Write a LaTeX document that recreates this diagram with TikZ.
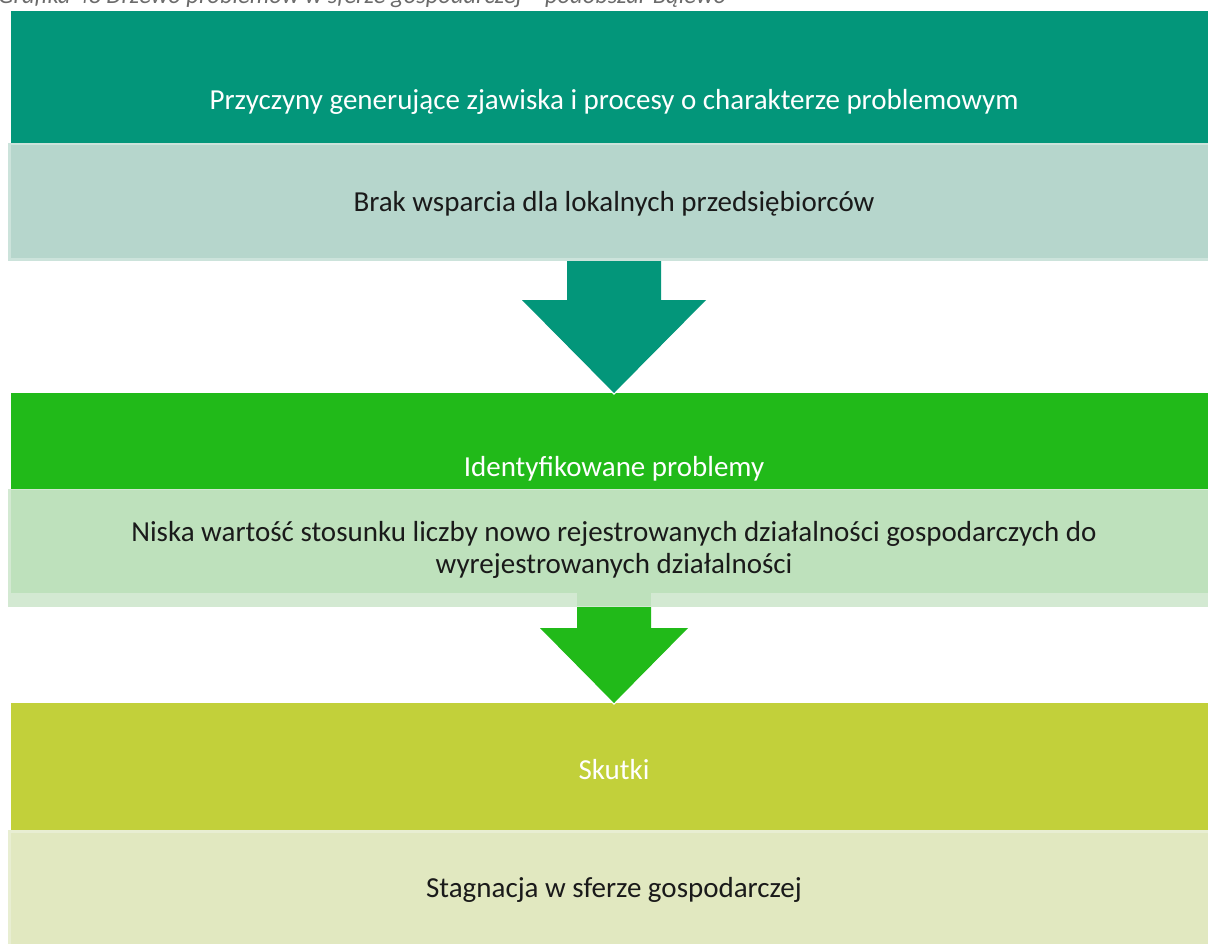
\documentclass[tikz,border=0pt]{standalone}
\usepackage{fontspec}
\setmainfont{Carlito}
\usetikzlibrary{calc}
\definecolor{tealh}{HTML}{03967A}
\definecolor{tealb}{HTML}{B6D6CC}
\definecolor{tealf}{HTML}{CCE3DB}
\definecolor{greenh}{HTML}{21BA19}
\definecolor{greenb}{HTML}{BEE1BC}
\definecolor{greenf}{HTML}{D3E9D2}
\definecolor{oliveh}{HTML}{C2D03A}
\definecolor{oliveb}{HTML}{E1E8C0}
\definecolor{olivef}{HTML}{E8EED2}
\definecolor{txtc}{HTML}{1A1A1A}
\definecolor{capc}{HTML}{6B6B6B}
\tikzset{
  lbl/.style={font=\fontsize{29}{32}\selectfont, anchor=base, inner sep=0pt},
  hdrtxt/.style={lbl, text=white},
  bodytxt/.style={lbl, text=txtc},
  headedge/.style={draw=white, line width=1.2pt, line join=miter},
}
\begin{document}
\begin{tikzpicture}[x=1pt,y=-1pt]
\useasboundingbox (0,0) rectangle (1208,943);
% caption (cut off at top, as in the reference)
\node[anchor=base west, inner sep=0pt, font=\fontsize{24.5}{30}\selectfont\itshape, text=capc] (cap) at (-2,3)
  {Grafika 48 Drzewo problemów w sferze gospodarczej – podobszar Bąlewo};
% section 1
\fill[tealh] (11,11) rectangle (1212,143);
\fill[tealf] (8,143) rectangle (1212,261);
\fill[tealb] (11,145) rectangle (1212,258);
\node[hdrtxt] (h1) at (614,109) {Przyczyny generujące zjawiska i procesy o charakterze problemowym};
\node[bodytxt] (b1) at (614,211) {Brak wsparcia dla lokalnych przedsiębiorców};
% section 2
\fill[greenh] (11,393) rectangle (1212,489);
\fill[greenf] (8,489) rectangle (1212,607);
\fill[greenb] (11,490) rectangle (1212,593);
\fill[greenb] (577,593) rectangle (651,606);
\node[hdrtxt] (h2) at (614,476) {Identyfikowane problemy};
\node[bodytxt, align=center] (b2) at (614,573) {Niska wartość stosunku liczby nowo rejestrowanych działalności gospodarczych do\\wyrejestrowanych działalności};
% section 3
\fill[oliveh] (11,703) rectangle (1212,830);
\fill[olivef] (8,830) rectangle (1212,946);
\fill[oliveb] (11,833) rectangle (1212,946);
\node[hdrtxt] (h3) at (614,779) {Skutki};
\node[bodytxt] (b3) at (614,897) {Stagnacja w sferze gospodarczej};
% arrow 1
\fill[tealh] (567,261) -- (661,261) -- (661,300) -- (706,300) -- (614,393) -- (522,300) -- (567,300) -- cycle;
\draw[headedge] (706,300) -- (614,394) -- (522,300);
\fill[tealh] (706,300) -- (614,393) -- (522,300) -- cycle;
% arrow 2
\fill[greenh] (577,607) -- (651,607) -- (651,628) -- (688,628) -- (614,703) -- (540,628) -- (577,628) -- cycle;
\draw[headedge] (688,628) -- (614,704) -- (540,628);
\fill[greenh] (688,628) -- (614,703) -- (540,628) -- cycle;
\end{tikzpicture}
\end{document}
